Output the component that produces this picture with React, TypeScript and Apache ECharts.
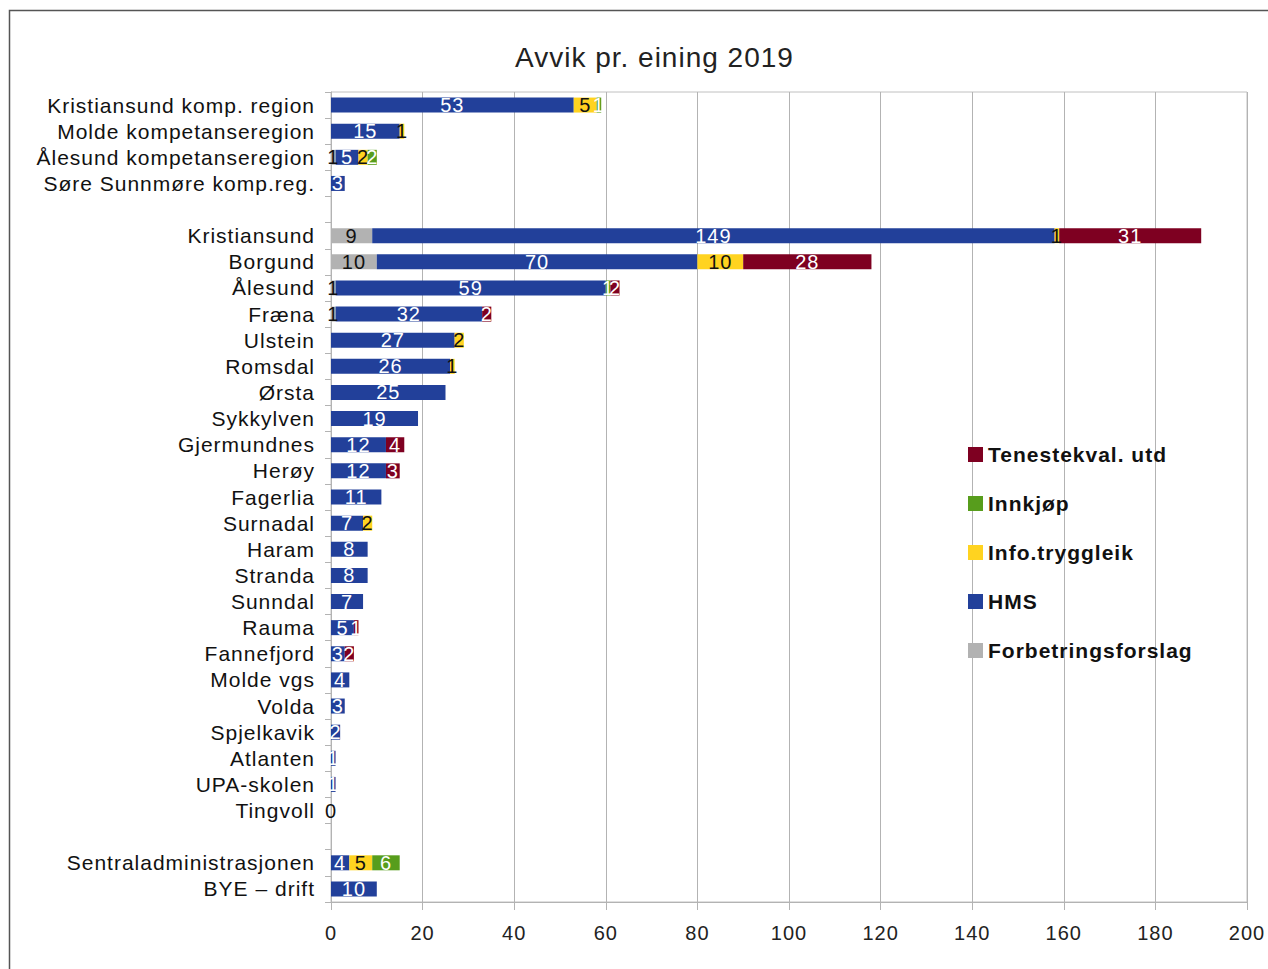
import React, { useEffect, useRef } from "react";
import * as echarts from "echarts";

const categories = [
  "Kristiansund komp. region",
  "Molde kompetanseregion",
  "Ålesund kompetanseregion",
  "Søre Sunnmøre komp.reg.",
  "",
  "Kristiansund",
  "Borgund",
  "Ålesund",
  "Fræna",
  "Ulstein",
  "Romsdal",
  "Ørsta",
  "Sykkylven",
  "Gjermundnes",
  "Herøy",
  "Fagerlia",
  "Surnadal",
  "Haram",
  "Stranda",
  "Sunndal",
  "Rauma",
  "Fannefjord",
  "Molde vgs",
  "Volda",
  "Spjelkavik",
  "Atlanten",
  "UPA-skolen",
  "Tingvoll",
  " ",
  "Sentraladministrasjonen",
  "BYE – drift",
];

const N = null;
const forbetring = [N, N, 1, N, N, 9, 10, 1, 1, N, N, N, N, N, N, N, N, N, N, N, N, N, N, N, N, N, N, 0, N, N, N];
const hms = [53, 15, 5, 3, N, 149, 70, 59, 32, 27, 26, 25, 19, 12, 12, 11, 7, 8, 8, 7, 5, 3, 4, 3, 2, 1, 1, N, N, 4, 10];
const info = [5, 1, 2, N, N, 1, 10, N, N, 2, 1, N, N, N, N, N, 2, N, N, N, N, N, N, N, N, N, N, N, N, 5, N];
const innkjop = [1, N, 2, N, N, N, N, 1, N, N, N, N, N, N, N, N, N, N, N, N, N, N, N, N, N, N, N, N, N, 6, N];
const tenestekval = [N, N, N, N, N, 31, 28, 2, 2, N, N, N, N, 4, 3, N, N, N, N, N, 1, 2, N, N, N, N, N, N, N, N, N];

const xTicks = { min: 0, max: 200, interval: 20 };

const seriesDefs = [
  { name: "Forbetringsforslag", data: forbetring, color: "#b2b2b2", label: "#111111" },
  { name: "HMS", data: hms, color: "#22409a", label: "#ffffff" },
  { name: "Info.tryggleik", data: info, color: "#ffd320", label: "#111111" },
  { name: "Innkjøp", data: innkjop, color: "#579d1c", label: "#ffffff" },
  { name: "Tenestekval. utd", data: tenestekval, color: "#7e0021", label: "#ffffff" },
];

const legendOrder = ["Tenestekval. utd", "Innkjøp", "Info.tryggleik", "HMS", "Forbetringsforslag"];

export default function App() {
  const ref = useRef<HTMLDivElement>(null);
  useEffect(() => {
    if (!ref.current) return;
    const chart = echarts.init(ref.current, null, { renderer: "svg" });
    const font = "'Liberation Sans', Arial, sans-serif";
    chart.setOption({
      animation: false,
      backgroundColor: "#ffffff",
      textStyle: { fontFamily: font },
      title: {
        text: "Avvik pr. eining 2019",
        left: 510,
        top: 38,
        textStyle: { fontFamily: font, fontSize: 28, fontWeight: "normal", color: "#222" },
      },
      graphic: [
        {
          type: "rect",
          shape: { x: 9.5, y: 10.5, width: 1300, height: 1000 },
          style: { fill: "none", stroke: "#555", lineWidth: 1.5 },
          silent: true,
        },
      ],
      legend: {
        orient: "vertical",
        left: 968,
        top: 444,
        padding: 0,
        itemGap: 28,
        itemWidth: 15,
        itemHeight: 15,
        icon: "rect",
        data: legendOrder,
        textStyle: { fontFamily: font, fontSize: 21, fontWeight: "bold", color: "#111" },
      },
      grid: { left: 331, right: 21, top: 92, bottom: 67, show: true, borderColor: "#c0c0c0", borderWidth: 1 },
      xAxis: {
        type: "value",
        min: xTicks.min,
        max: xTicks.max,
        interval: xTicks.interval,
        axisLine: { show: true, lineStyle: { color: "#b3b3b3" } },
        axisTick: { show: true, length: 8, lineStyle: { color: "#b3b3b3" } },
        axisLabel: { fontFamily: font, fontSize: 20, color: "#222", margin: 21 },
        splitLine: { show: true, lineStyle: { color: "#b3b3b3" } },
      },
      yAxis: {
        type: "category",
        data: categories,
        inverse: true,
        axisLine: { show: true, lineStyle: { color: "#b3b3b3" } },
        axisTick: { show: true, length: 6, interval: 0, lineStyle: { color: "#b3b3b3" } },
        axisLabel: { fontFamily: font, fontSize: 21, color: "#111", margin: 16, interval: 0 },
        splitLine: { show: false },
      },
      series: seriesDefs.map((s) => ({
        name: s.name,
        type: "bar",
        stack: "total",
        barWidth: 15,
        data: s.data,
        itemStyle: { color: s.color },
        label: {
          show: true,
          position: "inside",
          color: s.label,
          fontFamily: font,
          fontSize: 20,
          formatter: (p: any) => (p.value == null ? "" : String(p.value)),
        },
      })),
    });
    return () => chart.dispose();
  }, []);
  return (
    <>
      <style>{`#chart-box svg text { letter-spacing: 1px; }`}</style>
      <div
        id="chart-box"
        ref={ref}
        style={{ position: "fixed", left: 0, top: 0, width: 1268, height: 969 }}
      />
    </>
  );
}
